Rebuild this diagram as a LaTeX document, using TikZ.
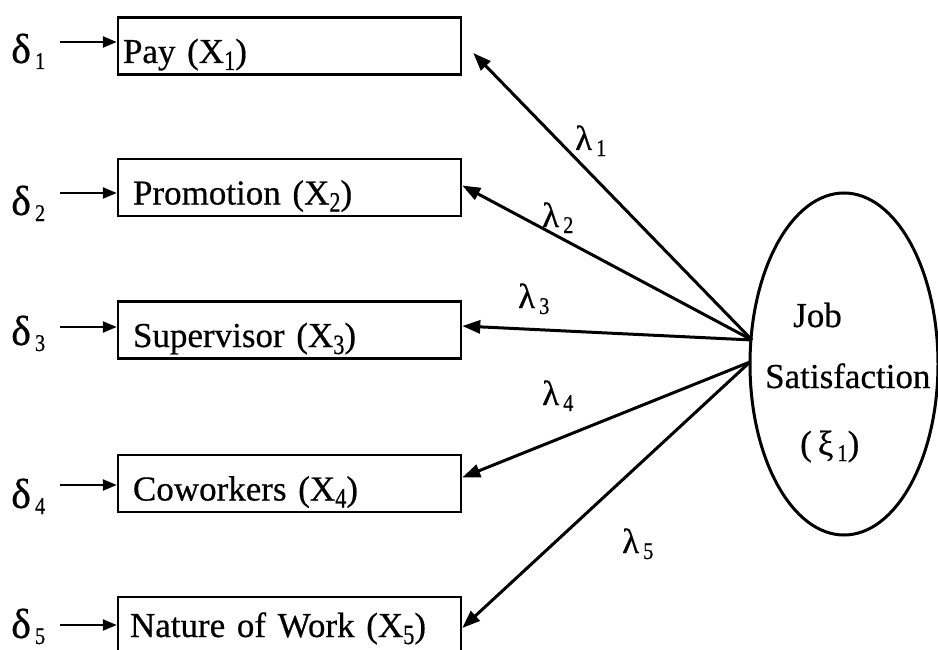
\documentclass[tikz,border=0pt]{standalone}
\usepackage{fontspec}
\usepackage{graphicx}
\setmainfont{Liberation Serif}[FakeBold=0.5]
\usetikzlibrary{arrows.meta,shapes.geometric,calc}
\newcommand{\xsub}[1]{\raisebox{-7pt}{\scalebox{0.8}[1]{\fontsize{28}{28}\selectfont #1}}}
\newcommand{\gsub}[1]{\hspace{4pt}\raisebox{-6pt}{\scalebox{0.85}[1]{\fontsize{24}{24}\selectfont #1}}}
\begin{document}
\begin{tikzpicture}[x=1pt,y=-1pt,
  every node/.style={font=\fontsize{35}{42}\selectfont},
  obs/.style={draw, line width=2.5pt, rectangle, minimum height=57pt,
    text width=313pt, inner xsep=15pt, inner ysep=0pt, align=left,
    text height=34pt, text depth=0pt},
  dlab/.style={anchor=base west, inner sep=0pt, font=\fontsize{42}{42}\selectfont},
  llab/.style={anchor=base west, inner sep=0pt},
  jtxt/.style={anchor=base west, inner sep=0pt},
  larr/.style={line width=3pt, -{Triangle[length=18pt,width=13pt]}},
  darr/.style={line width=2.5pt, -{Triangle[length=14pt,width=11pt]}}
]
\useasboundingbox (0,0) rectangle (938,650);

% observed variables
\node[obs] (b1) at (289.5,46) {\hspace*{-10pt}Pay (X\xsub{1})};
\node[obs] (b2) at (289.5,187.5) {Promotion (X\xsub{2})};
\node[obs] (b3) at (289.5,330) {Supervisor (X\xsub{3})};
\node[obs] (b4) at (289.5,483.5) {Coworkers (X\xsub{4})};
\node[obs, minimum height=80pt] (b5) at (289.5,637) {\raisebox{17pt}{\hspace*{-3pt}Nature of Work (X\xsub{5})}};

% error terms
\node[dlab] (d1) at (11,63) {δ\gsub{1}};
\node[dlab] (d2) at (11,215) {δ\gsub{2}};
\node[dlab] (d3) at (11,345) {δ\gsub{3}};
\node[dlab] (d4) at (11,508) {δ\gsub{4}};
\node[dlab] (d5) at (11,638) {δ\gsub{5}};

\coordinate (a1) at (60,42);
\coordinate (a2) at (60,193);
\coordinate (a3) at (60,327);
\coordinate (a4) at (60,485);
\coordinate (a5) at (60,625);
\draw[darr] (a1) -- (a1 -| b1.west);
\draw[darr] (a2) -- (a2 -| b2.west);
\draw[darr] (a3) -- (a3 -| b3.west);
\draw[darr] (a4) -- (a4 -| b4.west);
\draw[darr] (a5) -- (a5 -| b5.west);

% latent variable
\node[draw, ellipse, line width=3pt, minimum width=188pt, minimum height=342pt, inner sep=0pt] (js) at (844,364) {};
\node[jtxt] (jt1) at (793,327) {Job};
\node[jtxt] (jt2) at (765,388) {Satisfaction};
\node[jtxt] (jt3) at (800,455) {(\hspace{6pt}ξ\gsub{1})};

\coordinate (u) at (752,340);
\coordinate (l) at (750,362);
\draw[larr] (u) -- ($(b1.east)+(11,7)$);
\draw[larr] (u) -- ($(b2.east)+(0,-2)$);
\draw[larr] (u) -- ($(b3.east)+(0,-4)$);
\draw[larr] (l) -- ($(b4.east)+(0,-6)$);
\draw[larr] (l) -- ($(b5.east)+(0,-9)$);

% loadings
\node[llab] (l1) at (575,150) {λ\gsub{1}};
\node[llab] (l2) at (542,227) {λ\gsub{2}};
\node[llab] (l3) at (518,308) {λ\gsub{3}};
\node[llab] (l4) at (542,405) {λ\gsub{4}};
\node[llab] (l5) at (622,553) {λ\gsub{5}};
\end{tikzpicture}
\end{document}
